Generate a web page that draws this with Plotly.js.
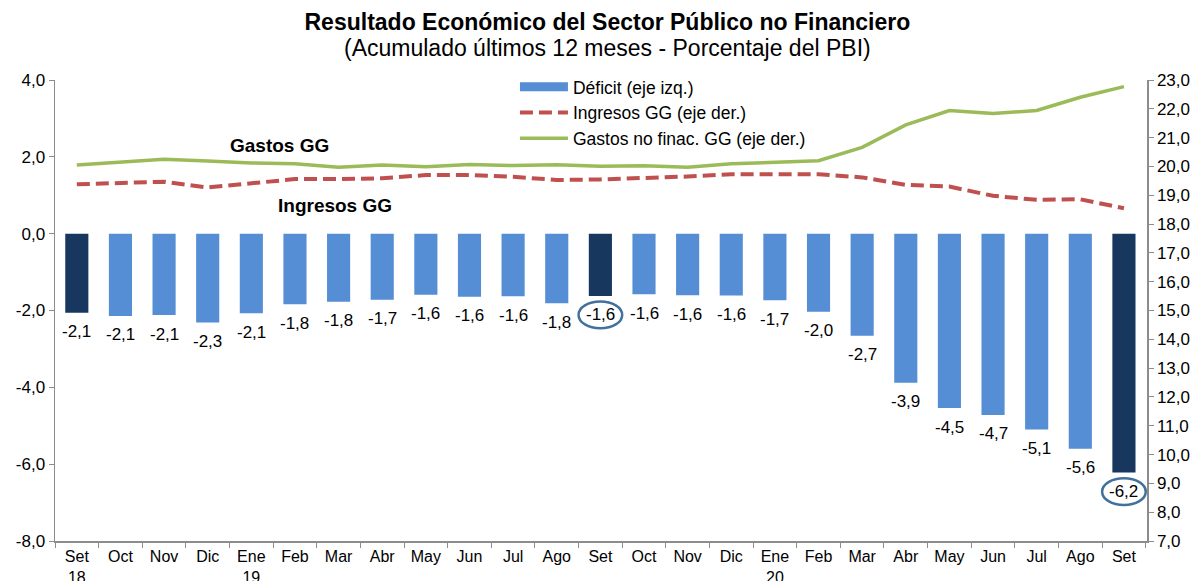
<!DOCTYPE html>
<html>
<head>
<meta charset="utf-8">
<script src="https://cdn.plot.ly/plotly-3.0.1.min.js"></script>
<style>html,body{margin:0;padding:0;background:#fff;}#chart{width:1198px;height:581px;}</style>
</head>
<body>
<div id="chart"></div>
<script>
const categories = ['Set-18','Oct-18','Nov-18','Dic-18','Ene-19','Feb-19','Mar-19','Abr-19','May-19','Jun-19','Jul-19','Ago-19',
  'Set-19','Oct-19','Nov-19','Dic-19','Ene-20','Feb-20','Mar-20','Abr-20','May-20','Jun-20','Jul-20','Ago-20','Set-20'];
const tickLabels = ['Set<br>18','Oct','Nov','Dic','Ene<br>19','Feb','Mar','Abr','May','Jun','Jul','Ago',
  'Set','Oct','Nov','Dic','Ene<br>20','Feb','Mar','Abr','May','Jun','Jul','Ago','Set'];
const deficit = [-2.06,-2.14,-2.12,-2.31,-2.07,-1.84,-1.77,-1.72,-1.59,-1.64,-1.63,-1.81,
  -1.62,-1.58,-1.60,-1.61,-1.73,-2.03,-2.66,-3.88,-4.54,-4.72,-5.10,-5.60,-6.22];
const ingresos = [19.38,19.41,19.47,19.27,19.43,19.56,19.56,19.59,19.70,19.70,19.64,19.53,
  19.55,19.59,19.65,19.73,19.74,19.73,19.62,19.36,19.30,18.98,18.84,18.86,18.55];
const gastos = [20.05,20.16,20.25,20.19,20.12,20.09,19.97,20.05,19.99,20.07,20.03,20.06,
  20.01,20.02,19.97,20.09,20.14,20.20,20.66,21.44,21.94,21.84,21.94,22.40,22.77];
const leftTicks = [-8,-6,-4,-2,0,2,4];
const rightTicks = [7,8,9,10,11,12,13,14,15,16,17,18,19,20,21,22,23];
const highlighted = ['Set-18','Set-19','Set-20'];
const circled = ['Set-19','Set-20'];

const fmt = v => v.toFixed(1).replace('.', ',');
const darkBlue = '#17375E', lightBlue = '#558ED5';
const barColors = categories.map(c => highlighted.includes(c) ? darkBlue : lightBlue);
const FONT = 'Liberation Sans, Arial, sans-serif';
const LABEL_SHIFT = -19; // px below bar end

const traces = [
  {type:'bar', x:categories, y:deficit, name:'Déficit (eje izq.)', marker:{color:barColors},
   showlegend:false, hoverinfo:'skip'},
  {type:'scatter', mode:'lines', x:[null], y:[null], name:'Déficit (eje izq.)',
   line:{color:lightBlue, width:9}, hoverinfo:'skip'},
  {type:'scatter', mode:'lines', x:categories, y:ingresos, yaxis:'y2', name:'Ingresos GG (eje der.)',
   line:{color:'#C0504D', width:4, dash:'13px,6px'}, hoverinfo:'skip'},
  {type:'scatter', mode:'lines', x:categories, y:gastos, yaxis:'y2', name:'Gastos no finac. GG (eje der.)',
   line:{color:'#9BBB59', width:3.5}, hoverinfo:'skip'}
];

const labelAnns = categories.map((c, i) => ({
  text: fmt(deficit[i]), xref:'x', yref:'y', x:c, y:deficit[i], yshift:LABEL_SHIFT,
  showarrow:false, font:{family:FONT, size:17, color:'#000'}
}));

const shapes = circled.map(c => {
  const i = categories.indexOf(c);
  const cy = deficit[i] + LABEL_SHIFT / 38.4;
  return {type:'circle', xref:'x', yref:'y', x0:i-0.5, x1:i+0.5, y0:cy-0.35, y1:cy+0.35,
          line:{color:'#41719C', width:2.5}};
});

const axisCommon = {showline:true, linecolor:'#8C8C8C', linewidth:1.5, ticks:'outside', ticklen:5,
  tickcolor:'#8C8C8C', showgrid:false, zeroline:false, fixedrange:true};

const layout = {
  width:1198, height:581,
  margin:{l:55, r:51, t:80, b:40},
  paper_bgcolor:'#fff', plot_bgcolor:'#fff',
  font:{family:FONT, size:15, color:'#000'},
  title:{text:'<b>Resultado Económico del Sector Público no Financiero</b>',
         font:{family:FONT, size:23, color:'#000'}, x:0.507, xanchor:'center',
         y:1 - 22/581, yanchor:'middle', yref:'container'},
  bargap:0.47,
  showlegend:true,
  legend:{x:0.4212, xanchor:'left', y:1.024, yanchor:'top', bgcolor:'rgba(0,0,0,0)',
          font:{family:FONT, size:17.5, color:'#000'}, tracegroupgap:0, itemwidth:48},
  xaxis:Object.assign({type:'category', categoryorder:'array', categoryarray:categories,
         tickvals:categories, ticktext:tickLabels, tickson:'boundaries',
         tickfont:{family:FONT, size:16, color:'#000'}}, axisCommon),
  yaxis:Object.assign({range:[-8,4], tickvals:leftTicks, ticktext:leftTicks.map(fmt),
         tickfont:{family:FONT, size:17, color:'#000'}}, axisCommon),
  yaxis2:Object.assign({range:[7,23], tickvals:rightTicks, ticktext:rightTicks.map(fmt),
          overlaying:'y', side:'right', tickfont:{family:FONT, size:17, color:'#000'}}, axisCommon),
  shapes:shapes,
  annotations:[
    {text:'(Acumulado últimos 12 meses - Porcentaje del PBI)', xref:'paper', yref:'paper',
     x:0.5055, y:1 + 32/461, yanchor:'middle', showarrow:false, font:{family:FONT, size:23, color:'#000'}},
    {text:'<b>Gastos GG</b>', xref:'x', yref:'y', x:4.65, y:2.29, showarrow:false,
     font:{family:FONT, size:19, color:'#000'}},
    {text:'<b>Ingresos GG</b>', xref:'x', yref:'y', x:5.91, y:0.73, showarrow:false,
     font:{family:FONT, size:19, color:'#000'}}
  ].concat(labelAnns)
};

Plotly.newPlot('chart', traces, layout, {displayModeBar:false, staticPlot:true});
</script>
</body>
</html>
